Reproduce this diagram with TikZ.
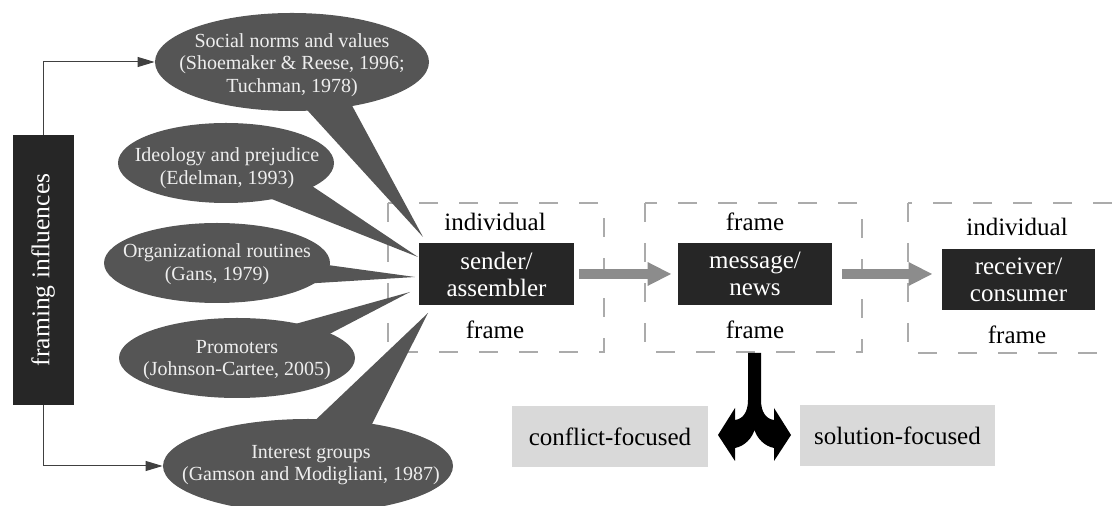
\documentclass[tikz,border=0pt]{standalone}
\usepackage{fontspec}
\setmainfont{Liberation Serif}
\usetikzlibrary{arrows.meta,shapes.geometric,calc}
\definecolor{boxdark}{HTML}{262626}
\definecolor{ellgray}{HTML}{555555}
\definecolor{arrgray}{HTML}{8C8C8C}
\definecolor{dashgray}{HTML}{ABABAB}
\definecolor{lightbox}{HTML}{D9D9D9}
\definecolor{elltext}{HTML}{EEEEEE}
\begin{document}
\begin{tikzpicture}[x=0.5pt,y=-0.5pt,
 ell/.style={ellipse, fill=ellgray, inner sep=0pt},
 elltxt/.style={text=elltext, inner sep=0pt, align=center, font=\fontsize{10pt}{11.25pt}\selectfont},
 darkbox/.style={fill=boxdark, text=white, inner sep=0pt, align=center, font=\fontsize{12.5pt}{13.5pt}\selectfont},
 lbl/.style={font=\fontsize{12.5pt}{15pt}\selectfont, inner sep=0pt},
 dbox/.style={draw=dashgray, line width=1pt, dash pattern=on 9.5pt off 10.5pt},
 garrow/.style={draw=arrgray, line width=5pt, -{Triangle[length=12pt,width=11pt]}},
 flow/.style={draw=black!75, line width=0.5pt, -{Triangle[length=8.5pt,width=5pt]}},
 focus/.style={fill=lightbox, inner sep=0pt, minimum height=30.5pt, font=\fontsize{12.5pt}{15pt}\selectfont},
 tail/.style={fill=ellgray}
]
\useasboundingbox (0,0) rectangle (1118,506);
\clip (0,0) rectangle (1118,506);

% dashed frames
\draw[dbox] (388,203) rectangle (604,352);
\draw[dbox] (645,203) rectangle (862,352);
\draw[dbox] (908,203) rectangle (1140,353);

% framing influences
\node[darkbox, rotate=90, minimum width=135pt, minimum height=30.5pt, font=\fontsize{12.8pt}{14pt}\selectfont] (fi) at (43,270) {framing influences};

% tips of callouts
\coordinate (t1) at (423,237);
\coordinate (t2) at (418,257);
\coordinate (t3) at (415,277);
\coordinate (t4) at (410,292);
\coordinate (t5) at (428,313);

% callout tails
\fill[tail] (298,100) -- (t1) -- (349,100) -- cycle;
\fill[tail] (303,180) -- (t2) -- (259,194) -- cycle;
\fill[tail] (313,263) -- (t3) -- (301,284) -- cycle;
\fill[tail] (281,328) -- (t4) -- (316,341) -- cycle;
\fill[tail] (305,430) -- (t5) -- (369,430) -- cycle;

% ellipses
\node[ell, minimum width=137pt, minimum height=49pt] (e1) at (292,62) {};
\node[ell, minimum width=108pt, minimum height=40pt] (e2) at (226,163) {};
\node[ell, minimum width=113pt, minimum height=40pt] (e3) at (217,263) {};
\node[ell, minimum width=118pt, minimum height=40pt] (e4) at (237,358) {};
\node[ell, minimum width=145pt, minimum height=47pt] (e5) at (308,466) {};

\node[elltxt] (x1) at (292,65) {Social norms and values\\(Shoemaker \& Reese, 1996;\\Tuchman, 1978)};
\node[elltxt] (x2) at (227,168) {Ideology and prejudice\\(Edelman, 1993)};
\node[elltxt] (x3) at (217,264) {Organizational routines\\(Gans, 1979)};
\node[elltxt] (x4) at (237,360) {Promoters\\(Johnson-Cartee, 2005)};
\node[elltxt] (x5) at (311,465) {Interest groups\\(Gamson and Modigliani, 1987)};

% connectors from framing influences
\draw[flow] (fi.east) |- (e1.west);
\draw[flow] (fi.west) |- (e5.west);

% main boxes
\node[darkbox, minimum width=77.5pt, minimum height=31pt] (sender) at (496.5,274) {sender/\\assembler};
\node[darkbox, minimum width=77pt, minimum height=31pt] (message) at (755,274) {message/\\news};
\node[darkbox, minimum width=76.5pt, minimum height=30.5pt] (receiver) at (1018.5,279.5) {receiver/\\consumer};

% labels
\node[lbl] (l1) at (495,222) {individual};
\node[lbl] (l2) at (495,330) {frame};
\node[lbl] (l3) at (755,222) {frame};
\node[lbl] (l4) at (755,330) {frame};
\node[lbl] (l5) at (1017,227) {individual};
\node[lbl] (l6) at (1017,335) {frame};

% gray flow arrows
\draw[garrow] ([xshift=2.5pt]sender.east) -- ([xshift=-3pt]message.west);
\draw[garrow] ([xshift=5pt]message.east) -- ([xshift=-4.5pt]message.east -| receiver.west);

% fork arrow
\fill[black] (748,353) -- (761,353) -- (761,400)
  .. controls (761,412) and (766,419) .. (774,420) -- (774,408) -- (791,435) -- (774,461) -- (774,448)
  .. controls (764,446) and (757,438) .. (754.5,430)
  .. controls (752,438) and (745,446) .. (735,448) -- (735,461) -- (718,435) -- (735,408) -- (735,420)
  .. controls (743,419) and (748,412) .. (748,400) -- cycle;

% focus boxes
\node[focus, minimum width=98pt] (conflict) at (610,436.5) {conflict-focused};
\node[focus, minimum width=97.5pt] (solution) at (897.5,436) {solution-focused};
\end{tikzpicture}
\end{document}
